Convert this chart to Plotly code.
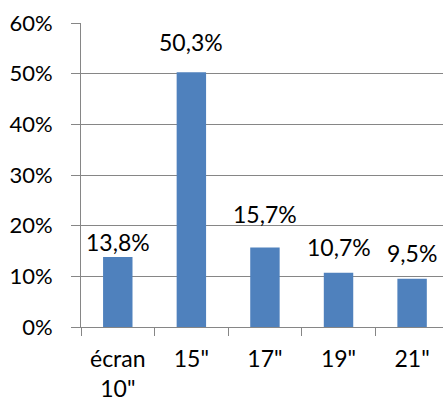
import plotly.graph_objects as go

categories = ["écran<br>10\"", "15\"", "17\"", "19\"", "21\""]
values = [13.8, 50.3, 15.7, 10.7, 9.5]
labels = ["13,8%", "50,3%", "15,7%", "10,7%", "9,5%"]
y_ticks = [0, 10, 20, 30, 40, 50, 60]
y_tick_labels = ["0%", "10%", "20%", "30%", "40%", "50%", "60%"]

# label offsets (style), pixels above bar top
label_shift = [15, 30, 33, 26, 26]

FONT = "Lato"
GRID = "#868686"

fig = go.Figure()
fig.add_trace(go.Bar(
    x=categories, y=values,
    marker=dict(color="#4F81BD", line=dict(width=0)),
    width=0.4,
))

for c, v, t, s in zip(categories, values, labels, label_shift):
    fig.add_annotation(x=c, y=v, text=t, showarrow=False, yanchor="middle",
                       yshift=s, font=dict(family=FONT, size=23, color="#000"))

fig.update_layout(
    width=443, height=401,
    margin=dict(l=81, r=0, t=23, b=74),
    paper_bgcolor="white", plot_bgcolor="white",
    showlegend=False,
    font=dict(family=FONT, size=23, color="#000"),
)
fig.update_xaxes(
    type="category",
    range=[-0.5, 4.42],
    automargin=False,
    showline=True, linecolor=GRID, linewidth=1,
    ticks="outside", ticklen=8, tickcolor=GRID, tickwidth=1,
    tickson="boundaries",
    showgrid=False,
    ticklabelstandoff=11,
    tickfont=dict(family=FONT, size=23, color="#000"),
)
fig.update_yaxes(
    range=[0, 60],
    automargin=False,
    tickvals=y_ticks, ticktext=y_tick_labels,
    showline=True, linecolor=GRID, linewidth=1,
    ticks="outside", ticklen=9, tickcolor=GRID, tickwidth=1,
    showgrid=True, gridcolor=GRID, gridwidth=1,
    zeroline=False,
    ticklabelstandoff=14,
    tickfont=dict(family=FONT, size=22, color="#000"),
)

fig.write_html("out.html")
